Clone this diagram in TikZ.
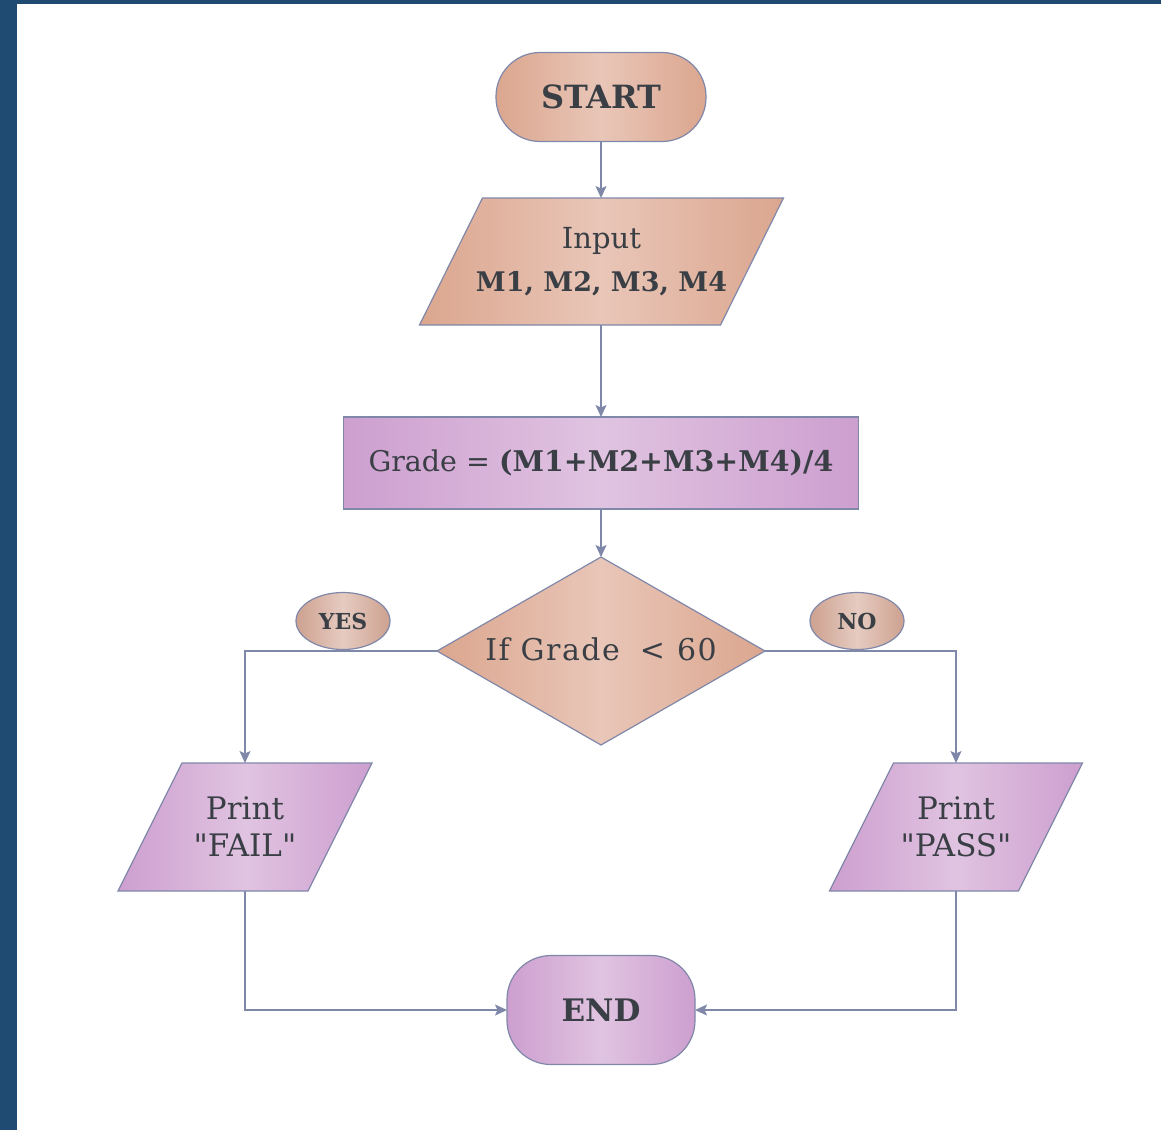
\documentclass[tikz,border=0pt]{standalone}
\usepackage{fontspec}
\setmainfont{DejaVu Serif}[Ligatures=TeXOff]
\usetikzlibrary{shapes.geometric,arrows.meta}
\definecolor{bgblue}{HTML}{1F4B72}
\definecolor{peachE}{HTML}{DBA68E}
\definecolor{peachM}{HTML}{E9C6B8}
\definecolor{ovalE}{HTML}{CDA190}
\definecolor{ovalM}{HTML}{E6CBC0}
\definecolor{lilacE}{HTML}{CD9FCF}
\definecolor{lilacM}{HTML}{E0C3E1}
\definecolor{edgec}{HTML}{8088AA}
\definecolor{txt}{HTML}{3A3F45}
\begin{document}
\begin{tikzpicture}[x=1pt,y=-1pt,
 every node/.style={text=txt, inner sep=0pt, outer sep=0pt, align=center},
 peach/.style={left color=peachE, right color=peachE, middle color=peachM, draw=edgec, line width=1.2pt},
 lilac/.style={left color=lilacE, right color=lilacE, middle color=lilacM, draw=edgec, line width=1.2pt},
 oval/.style={ellipse, left color=ovalE, right color=ovalE, middle color=ovalM, draw=edgec, line width=1.2pt, minimum width=94pt, minimum height=57pt, font=\bfseries\fontsize{22}{24}\selectfont},
 terminal/.style={rectangle, rounded corners=44pt},
 iobody/.style={rectangle, draw=none, fill=none},
 conn/.style={draw=edgec, line width=1.4pt},
 arr/.style={conn, -{Stealth[length=12pt,width=11pt,inset=2.5pt]}},
]
\useasboundingbox (0,0) rectangle (1161,1130);
\fill[white] (0,0) rectangle (1161,1130);
\fill[bgblue] (0,0) rectangle (17,1130);
\fill[bgblue] (0,0) rectangle (1161,4);

% START
\node[peach, terminal, minimum width=210pt, minimum height=89pt, font=\bfseries\fontsize{32}{38}\selectfont] (start) at (601,97) {START};

% Input parallelogram
\node[iobody, minimum width=301pt, minimum height=127pt] (input) at (601.5,261.5) {};
\path[peach] ([xshift=31.5pt]input.north west) -- ([xshift=31.5pt]input.north east)
  -- ([xshift=-31.5pt]input.south east) -- ([xshift=-31.5pt]input.south west) -- cycle;
\node[font=\fontsize{29}{43}\selectfont] (inputtxt) at (input.center) {Input\\\bfseries\fontsize{27}{43}\selectfont M1, M2, M3, M4};

% Grade
\node[lilac, rectangle, minimum width=515pt, minimum height=92pt] (grade) at (601,463) {};
\node[font=\fontsize{28.5}{36}\selectfont] (gradetxt) at (grade.center) {Grade = \textbf{(M1+M2+M3+M4)/4}};

% decision
\node[peach, diamond, minimum width=328pt, minimum height=188pt] (cond) at (601,651) {};
\node[font=\fontsize{30}{36}\selectfont] (condtxt) at (601,649) {\addfontfeatures{LetterSpace=5}If Grade\hspace{20pt}<\hspace{12pt}60};

% FAIL
\node[iobody, minimum width=190pt, minimum height=128pt] (fail) at (245,827) {};
\path[lilac] ([xshift=32pt]fail.north west) -- ([xshift=32pt]fail.north east)
  -- ([xshift=-32pt]fail.south east) -- ([xshift=-32pt]fail.south west) -- cycle;
\node[font=\fontsize{31}{37}\selectfont] (failtxt) at (fail.center) {Print\\"FAIL"};

% PASS
\node[iobody, minimum width=189pt, minimum height=128pt] (pass) at (956,827) {};
\path[lilac] ([xshift=32pt]pass.north west) -- ([xshift=32pt]pass.north east)
  -- ([xshift=-32pt]pass.south east) -- ([xshift=-32pt]pass.south west) -- cycle;
\node[font=\fontsize{31}{37}\selectfont] (passtxt) at (pass.center) {Print\\"PASS"};

% END
\node[lilac, terminal, minimum width=188pt, minimum height=109pt, font=\bfseries\fontsize{31}{36}\selectfont] (end) at (601,1010) {END};

% connectors
\draw[arr] (start) -- (start |- input.north);
\draw[arr] (input.south -| grade) -- (grade);
\draw[arr] (grade) -- (cond);
\draw[arr] (cond.west) -| (fail);
\draw[arr] (cond.east) -| (pass);
\draw[arr] (fail) |- (end);
\draw[arr] (pass) |- (end);

% branch labels
\node[oval] (yes) at (343,621) {YES};
\node[oval] (no) at (857,621) {NO};
\end{tikzpicture}
\end{document}
